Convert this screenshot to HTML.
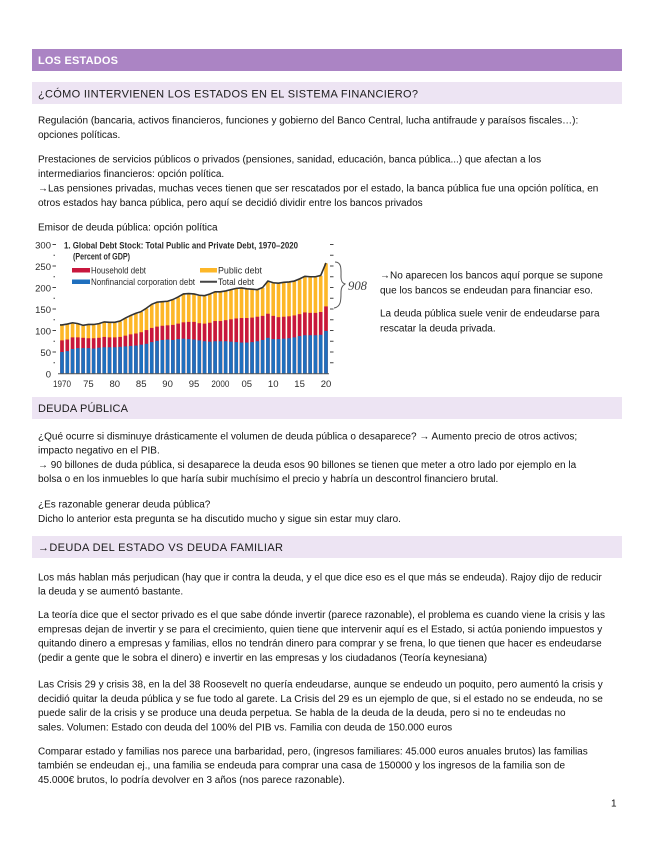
<!DOCTYPE html>
<html><head><meta charset="utf-8"><style>
html,body{margin:0;padding:0;background:#fff;}
svg{display:block;}
.t{font-family:"Liberation Sans",sans-serif;font-size:10px;fill:#111;}
.h{font-family:"Liberation Sans",sans-serif;font-size:11px;fill:#1a1a1a;}
.c{font-family:"Liberation Sans",sans-serif;fill:#2a2a2a;}
</style></head><body>
<svg width="655" height="848" viewBox="0 0 655 848" xmlns="http://www.w3.org/2000/svg">
<rect x="0" y="0" width="655" height="848" fill="#fff"/>
<!-- header bars -->
<rect x="32" y="49" width="590" height="22" fill="#ab84c4"/>
<text x="38" y="64" font-family="Liberation Sans, sans-serif" font-size="11" font-weight="bold" fill="#fff" textLength="80">LOS ESTADOS</text>
<rect x="32" y="82" width="590" height="22" fill="#ede4f3"/>
<text class="h" x="38" y="97.5" textLength="380">¿CÓMO IINTERVIENEN LOS ESTADOS EN EL SISTEMA FINANCIERO?</text>

<text class="t" x="38" y="123.5">Regulación (bancaria, activos financieros, funciones y gobierno del Banco Central, lucha antifraude y paraísos fiscales…):</text>
<text class="t" x="38" y="138">opciones políticas.</text>
<text class="t" x="38" y="162.5">Prestaciones de servicios públicos o privados (pensiones, sanidad, educación, banca pública...) que afectan a los</text>
<text class="t" x="38" y="177">intermediarios financieros: opción política.</text>
<text class="t" x="38" y="191.5">→Las pensiones privadas, muchas veces tienen que ser rescatados por el estado, la banca pública fue una opción política, en</text>
<text class="t" x="38" y="206">otros estados hay banca pública, pero aquí se decidió dividir entre los bancos privados</text>
<text class="t" x="38" y="230.5">Emisor de deuda pública: opción política</text>

<!-- chart -->
<g class="c" font-size="9.5">
<text x="51" y="248.5" text-anchor="end">300</text>
<text x="51" y="270" text-anchor="end">250</text>
<text x="51" y="291.5" text-anchor="end">200</text>
<text x="51" y="313" text-anchor="end">150</text>
<text x="51" y="334.5" text-anchor="end">100</text>
<text x="51" y="356" text-anchor="end">50</text>
<text x="51" y="377.5" text-anchor="end">0</text>
</g>
<g stroke="#444" stroke-width="1">
<line x1="52.5" y1="244.5" x2="56" y2="244.5"/>
<line x1="52.5" y1="266" x2="56" y2="266"/>
<line x1="52.5" y1="287.5" x2="56" y2="287.5"/>
<line x1="52.5" y1="309" x2="56" y2="309"/>
<line x1="52.5" y1="330.5" x2="56" y2="330.5"/>
<line x1="52.5" y1="352" x2="56" y2="352"/>
<line x1="53.5" y1="255.25" x2="55" y2="255.25"/>
<line x1="53.5" y1="276.75" x2="55" y2="276.75"/>
<line x1="53.5" y1="298.25" x2="55" y2="298.25"/>
<line x1="53.5" y1="319.75" x2="55" y2="319.75"/>
<line x1="53.5" y1="341.25" x2="55" y2="341.25"/>
<line x1="53.5" y1="362.75" x2="55" y2="362.75"/>
<line x1="330" y1="244.5" x2="333.5" y2="244.5"/>
<line x1="330" y1="255.25" x2="333.5" y2="255.25"/>
<line x1="330" y1="266" x2="333.5" y2="266"/>
<line x1="330" y1="276.75" x2="333.5" y2="276.75"/>
<line x1="330" y1="287.5" x2="333.5" y2="287.5"/>
<line x1="330" y1="298.25" x2="333.5" y2="298.25"/>
<line x1="330" y1="309" x2="333.5" y2="309"/>
<line x1="330" y1="319.75" x2="333.5" y2="319.75"/>
<line x1="330" y1="330.5" x2="333.5" y2="330.5"/>
<line x1="330" y1="341.25" x2="333.5" y2="341.25"/>
<line x1="330" y1="352" x2="333.5" y2="352"/>
<line x1="330" y1="362.75" x2="333.5" y2="362.75"/>
</g>
<text class="c" x="64" y="248.5" font-size="9.5" font-weight="bold" textLength="234" lengthAdjust="spacingAndGlyphs">1. Global Debt Stock: Total Public and Private Debt, 1970–2020</text>
<text class="c" x="73" y="259.5" font-size="9.5" font-weight="bold" textLength="57" lengthAdjust="spacingAndGlyphs">(Percent of GDP)</text>
<rect x="72" y="268" width="18" height="4.5" fill="#c8173d"/>
<rect x="72" y="279.5" width="18" height="4.5" fill="#1f6fbe"/>
<rect x="200" y="268" width="17" height="4.5" fill="#fdb728"/>
<line x1="200" y1="281.7" x2="217" y2="281.7" stroke="#444" stroke-width="2"/>
<text class="c" x="91" y="273.5" font-size="9.5" textLength="55" lengthAdjust="spacingAndGlyphs">Household debt</text>
<text class="c" x="91" y="285" font-size="9.5" textLength="104" lengthAdjust="spacingAndGlyphs">Nonfinancial corporation debt</text>
<text class="c" x="218" y="273.5" font-size="9.5" textLength="44" lengthAdjust="spacingAndGlyphs">Public debt</text>
<text class="c" x="218" y="285" font-size="9.5" textLength="36" lengthAdjust="spacingAndGlyphs">Total debt</text>

<g transform="translate(0,373.5) scale(1,-0.43)">
<g fill="#fdb728">
<rect x="60.2" width="3.6" height="112"/><rect x="65.48" width="3.6" height="114"/><rect x="70.76" width="3.6" height="117"/><rect x="76.04" width="3.6" height="115"/><rect x="81.32" width="3.6" height="111"/><rect x="86.6" width="3.6" height="113"/><rect x="91.88" width="3.6" height="113"/><rect x="97.16" width="3.6" height="115"/><rect x="102.44" width="3.6" height="119"/><rect x="107.72" width="3.6" height="118"/><rect x="113" width="3.6" height="118"/><rect x="118.28" width="3.6" height="121"/><rect x="123.56" width="3.6" height="128"/><rect x="128.84" width="3.6" height="134"/><rect x="134.12" width="3.6" height="139"/><rect x="139.4" width="3.6" height="143"/><rect x="144.68" width="3.6" height="151"/><rect x="149.96" width="3.6" height="160"/><rect x="155.24" width="3.6" height="165"/><rect x="160.52" width="3.6" height="166"/><rect x="165.8" width="3.6" height="167"/><rect x="171.08" width="3.6" height="171"/><rect x="176.36" width="3.6" height="177"/><rect x="181.64" width="3.6" height="184"/><rect x="186.92" width="3.6" height="185"/><rect x="192.2" width="3.6" height="184"/><rect x="197.48" width="3.6" height="181"/><rect x="202.76" width="3.6" height="180"/><rect x="208.04" width="3.6" height="184"/><rect x="213.32" width="3.6" height="189"/><rect x="218.6" width="3.6" height="189"/><rect x="223.88" width="3.6" height="191"/><rect x="229.16" width="3.6" height="194"/><rect x="234.44" width="3.6" height="197"/><rect x="239.72" width="3.6" height="198"/><rect x="245" width="3.6" height="196"/><rect x="250.28" width="3.6" height="195"/><rect x="255.56" width="3.6" height="194"/><rect x="260.84" width="3.6" height="199"/><rect x="266.12" width="3.6" height="214"/><rect x="271.4" width="3.6" height="210"/><rect x="276.68" width="3.6" height="209"/><rect x="281.96" width="3.6" height="211"/><rect x="287.24" width="3.6" height="212"/><rect x="292.52" width="3.6" height="214"/><rect x="297.8" width="3.6" height="219"/><rect x="303.08" width="3.6" height="225"/><rect x="308.36" width="3.6" height="224"/><rect x="313.64" width="3.6" height="224"/><rect x="318.92" width="3.6" height="227"/><rect x="324.2" width="3.6" height="256"/>
</g>
<g fill="#c8173d">
<rect x="60.2" width="3.6" height="77"/><rect x="65.48" width="3.6" height="79"/><rect x="70.76" width="3.6" height="84"/><rect x="76.04" width="3.6" height="84"/><rect x="81.32" width="3.6" height="83"/><rect x="86.6" width="3.6" height="82"/><rect x="91.88" width="3.6" height="82"/><rect x="97.16" width="3.6" height="83"/><rect x="102.44" width="3.6" height="85"/><rect x="107.72" width="3.6" height="84"/><rect x="113" width="3.6" height="84"/><rect x="118.28" width="3.6" height="85"/><rect x="123.56" width="3.6" height="88"/><rect x="128.84" width="3.6" height="91"/><rect x="134.12" width="3.6" height="93"/><rect x="139.4" width="3.6" height="96"/><rect x="144.68" width="3.6" height="101"/><rect x="149.96" width="3.6" height="106"/><rect x="155.24" width="3.6" height="109"/><rect x="160.52" width="3.6" height="111"/><rect x="165.8" width="3.6" height="112"/><rect x="171.08" width="3.6" height="113"/><rect x="176.36" width="3.6" height="116"/><rect x="181.64" width="3.6" height="119"/><rect x="186.92" width="3.6" height="120"/><rect x="192.2" width="3.6" height="120"/><rect x="197.48" width="3.6" height="117"/><rect x="202.76" width="3.6" height="116"/><rect x="208.04" width="3.6" height="118"/><rect x="213.32" width="3.6" height="122"/><rect x="218.6" width="3.6" height="122"/><rect x="223.88" width="3.6" height="124"/><rect x="229.16" width="3.6" height="126"/><rect x="234.44" width="3.6" height="128"/><rect x="239.72" width="3.6" height="129"/><rect x="245" width="3.6" height="129"/><rect x="250.28" width="3.6" height="130"/><rect x="255.56" width="3.6" height="132"/><rect x="260.84" width="3.6" height="134"/><rect x="266.12" width="3.6" height="139"/><rect x="271.4" width="3.6" height="134"/><rect x="276.68" width="3.6" height="131"/><rect x="281.96" width="3.6" height="132"/><rect x="287.24" width="3.6" height="133"/><rect x="292.52" width="3.6" height="135"/><rect x="297.8" width="3.6" height="138"/><rect x="303.08" width="3.6" height="142"/><rect x="308.36" width="3.6" height="141"/><rect x="313.64" width="3.6" height="141"/><rect x="318.92" width="3.6" height="143"/><rect x="324.2" width="3.6" height="156"/>
</g>
<g fill="#1f6fbe">
<rect x="60.2" width="3.6" height="50"/><rect x="65.48" width="3.6" height="52"/><rect x="70.76" width="3.6" height="57"/><rect x="76.04" width="3.6" height="59"/><rect x="81.32" width="3.6" height="59"/><rect x="86.6" width="3.6" height="59"/><rect x="91.88" width="3.6" height="58"/><rect x="97.16" width="3.6" height="60"/><rect x="102.44" width="3.6" height="61"/><rect x="107.72" width="3.6" height="61"/><rect x="113" width="3.6" height="61"/><rect x="118.28" width="3.6" height="62"/><rect x="123.56" width="3.6" height="63"/><rect x="128.84" width="3.6" height="64"/><rect x="134.12" width="3.6" height="65"/><rect x="139.4" width="3.6" height="67"/><rect x="144.68" width="3.6" height="69"/><rect x="149.96" width="3.6" height="73"/><rect x="155.24" width="3.6" height="76"/><rect x="160.52" width="3.6" height="78"/><rect x="165.8" width="3.6" height="79"/><rect x="171.08" width="3.6" height="78"/><rect x="176.36" width="3.6" height="80"/><rect x="181.64" width="3.6" height="81"/><rect x="186.92" width="3.6" height="80"/><rect x="192.2" width="3.6" height="79"/><rect x="197.48" width="3.6" height="77"/><rect x="202.76" width="3.6" height="75"/><rect x="208.04" width="3.6" height="74"/><rect x="213.32" width="3.6" height="75"/><rect x="218.6" width="3.6" height="75"/><rect x="223.88" width="3.6" height="75"/><rect x="229.16" width="3.6" height="74"/><rect x="234.44" width="3.6" height="73"/><rect x="239.72" width="3.6" height="72"/><rect x="245" width="3.6" height="72"/><rect x="250.28" width="3.6" height="73"/><rect x="255.56" width="3.6" height="75"/><rect x="260.84" width="3.6" height="78"/><rect x="266.12" width="3.6" height="83"/><rect x="271.4" width="3.6" height="80"/><rect x="276.68" width="3.6" height="80"/><rect x="281.96" width="3.6" height="81"/><rect x="287.24" width="3.6" height="82"/><rect x="292.52" width="3.6" height="84"/><rect x="297.8" width="3.6" height="87"/><rect x="303.08" width="3.6" height="89"/><rect x="308.36" width="3.6" height="89"/><rect x="313.64" width="3.6" height="89"/><rect x="318.92" width="3.6" height="90"/><rect x="324.2" width="3.6" height="99"/>
</g>
<polyline fill="none" stroke="#333" stroke-width="1.6" vector-effect="non-scaling-stroke" points="60,113 62,113 67.28,115 72.56,118 77.84,116 83.12,112 88.4,114 93.68,114 98.96,116 104.24,120 109.52,119 114.8,119 120.08,122 125.36,129 130.64,135 135.92,140 141.2,144 146.48,152 151.76,161 157.04,166 162.32,167 167.6,168 172.88,172 178.16,178 183.44,185 188.72,186 194,185 199.28,182 204.56,181 209.84,185 215.12,190 220.4,190 225.68,192 230.96,195 236.24,198 241.52,199 246.8,197 252.08,196 257.36,195 262.64,200 267.92,215 273.2,211 278.48,210 283.76,212 289.04,213 294.32,215 299.6,220 304.88,226 310.16,225 315.44,225 320.72,228 326,257"/>
</g>
<line x1="58" y1="373.8" x2="329" y2="373.8" stroke="#555" stroke-width="1"/>
<g class="c" font-size="9.5" text-anchor="middle">
<text x="62" y="387" textLength="18" lengthAdjust="spacingAndGlyphs">1970</text>
<text x="88.4" y="387">75</text>
<text x="114.8" y="387">80</text>
<text x="141.2" y="387">85</text>
<text x="167.6" y="387">90</text>
<text x="194" y="387">95</text>
<text x="220.4" y="387" textLength="18" lengthAdjust="spacingAndGlyphs">2000</text>
<text x="246.8" y="387">05</text>
<text x="273.2" y="387">10</text>
<text x="299.6" y="387">15</text>
<text x="326" y="387">20</text>
</g>
<!-- handwritten brace -->
<path d="M335,262 C342,262 341,270 341,277 C341,281 342,283 345,284 C342,286 341,288 341,293 C341,300 341,307 334,308" fill="none" stroke="#555" stroke-width="1"/>
<text x="348" y="290" font-family="Liberation Serif, serif" font-style="italic" font-size="13" fill="#444" textLength="19" lengthAdjust="spacingAndGlyphs">908</text>

<text class="t" x="380" y="278.5">→No aparecen los bancos aquí porque se supone</text>
<text class="t" x="380" y="293.5">que los bancos se endeudan para financiar eso.</text>
<text class="t" x="380" y="316.5">La deuda pública suele venir de endeudarse para</text>
<text class="t" x="380" y="331.5">rescatar la deuda privada.</text>

<!-- DEUDA PÚBLICA -->
<rect x="32" y="397" width="590" height="22" fill="#ede4f3"/>
<text class="h" x="38" y="412" textLength="90">DEUDA PÚBLICA</text>
<text class="t" x="38" y="439.5">¿Qué ocurre si disminuye drásticamente el volumen de deuda pública o desaparece? → Aumento precio de otros activos;</text>
<text class="t" x="38" y="453.5">impacto negativo en el PIB.</text>
<text class="t" x="38" y="468">→ 90 billones de duda pública, si desaparece la deuda esos 90 billones se tienen que meter a otro lado por ejemplo en la</text>
<text class="t" x="38" y="482">bolsa o en los inmuebles lo que haría subir muchísimo el precio y habría un descontrol financiero brutal.</text>
<text class="t" x="38" y="507.5">¿Es razonable generar deuda pública?</text>
<text class="t" x="38" y="522">Dicho lo anterior esta pregunta se ha discutido mucho y sigue sin estar muy claro.</text>

<!-- DEUDA DEL ESTADO -->
<rect x="32" y="536" width="590" height="22" fill="#ede4f3"/>
<text class="h" x="38" y="551" textLength="245">→DEUDA DEL ESTADO VS DEUDA FAMILIAR</text>
<text class="t" x="38" y="580.5">Los más hablan más perjudican (hay que ir contra la deuda, y el que dice eso es el que más se endeuda). Rajoy dijo de reducir</text>
<text class="t" x="38" y="594.5">la deuda y se aumentó bastante.</text>
<text class="t" x="38" y="618">La teoría dice que el sector privado es el que sabe dónde invertir (parece razonable), el problema es cuando viene la crisis y las</text>
<text class="t" x="38" y="632.5">empresas dejan de invertir y se para el crecimiento, quien tiene que intervenir aquí es el Estado, si actúa poniendo impuestos y</text>
<text class="t" x="38" y="646.5">quitando dinero a empresas y familias, ellos no tendrán dinero para comprar y se frena, lo que tienen que hacer es endeudarse</text>
<text class="t" x="38" y="661">(pedir a gente que le sobra el dinero) e invertir en las empresas y los ciudadanos (Teoría keynesiana)</text>
<text class="t" x="38" y="687.5">Las Crisis 29 y crisis 38, en la del 38 Roosevelt no quería endeudarse, aunque se endeudo un poquito, pero aumentó la crisis y</text>
<text class="t" x="38" y="702">decidió quitar la deuda pública y se fue todo al garete. La Crisis del 29 es un ejemplo de que, si el estado no se endeuda, no se</text>
<text class="t" x="38" y="716">puede salir de la crisis y se produce una deuda perpetua. Se habla de la deuda de la deuda, pero si no te endeudas no</text>
<text class="t" x="38" y="730.5">sales. Volumen: Estado con deuda del 100% del PIB vs. Familia con deuda de 150.000 euros</text>
<text class="t" x="38" y="754.5">Comparar estado y familias nos parece una barbaridad, pero, (ingresos familiares: 45.000 euros anuales brutos) las familias</text>
<text class="t" x="38" y="768.5">también se endeudan ej., una familia se endeuda para comprar una casa de 150000 y los ingresos de la familia son de</text>
<text class="t" x="38" y="783">45.000€ brutos, lo podría devolver en 3 años (nos parece razonable).</text>
<text class="t" x="611" y="806.5">1</text>
</svg>
</body></html>
